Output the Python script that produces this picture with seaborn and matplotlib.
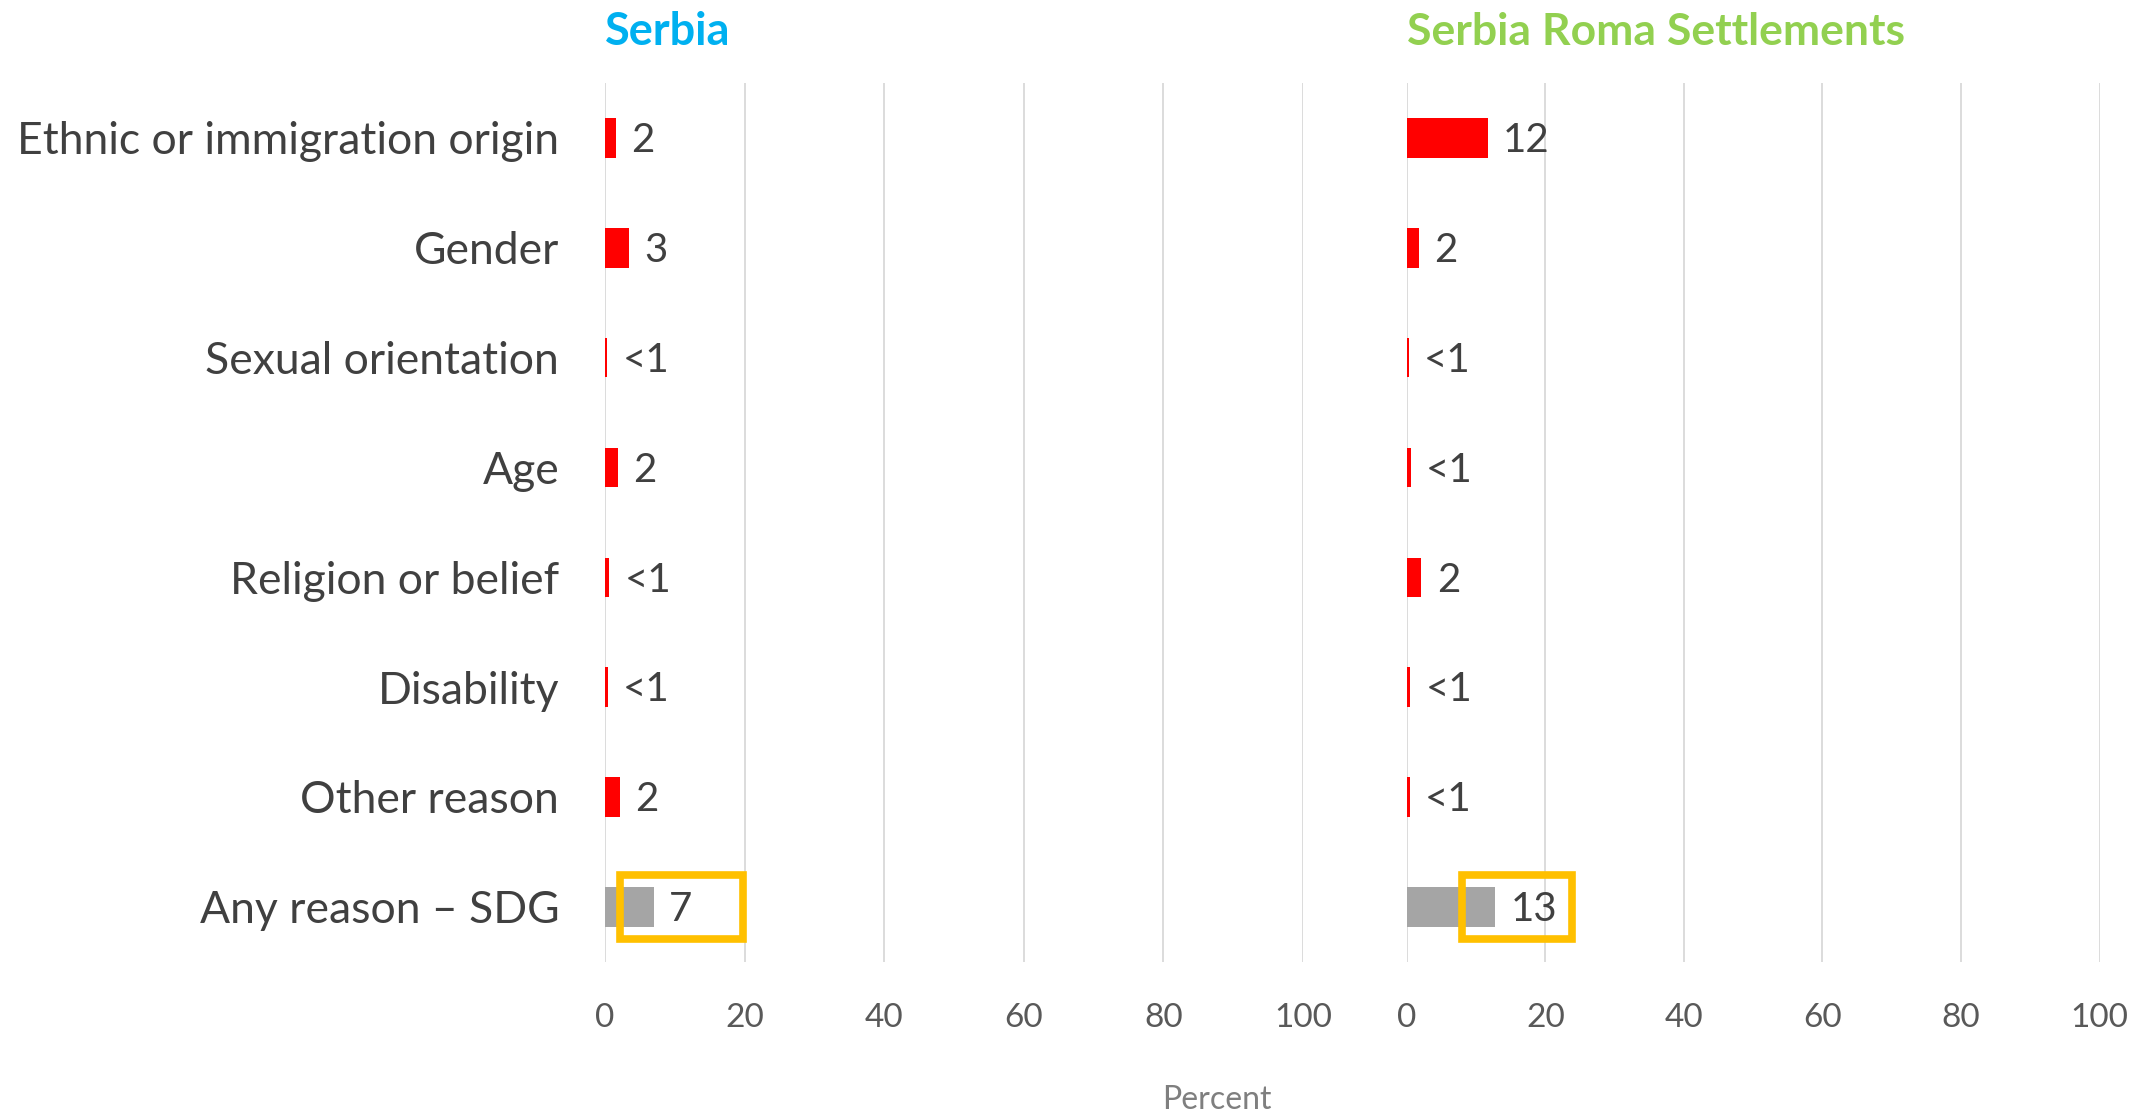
import matplotlib
matplotlib.use("Agg")
import matplotlib.pyplot as plt
import seaborn as sns
import pandas as pd
from matplotlib.patches import Rectangle

categories = ["Ethnic or immigration origin", "Gender", "Sexual orientation", "Age",
              "Religion or belief", "Disability", "Other reason", "Any reason \u2013 SDG"]
serbia_values = [1.6, 3.4, 0.3, 1.8, 0.6, 0.4, 2.1, 7.0]
serbia_labels = ["2", "3", "<1", "2", "<1", "<1", "2", "7"]
roma_values = [11.7, 1.7, 0.3, 0.6, 2.1, 0.5, 0.4, 12.8]
roma_labels = ["12", "2", "<1", "<1", "2", "<1", "<1", "13"]
panel_titles = ["Serbia", "Serbia Roma Settlements"]
x_ticks = [0, 20, 40, 60, 80, 100]

sns.set_theme(style="white")
plt.rcParams["font.family"] = ["Lato", "DejaVu Sans"]

bar_colors = ["#FF0000"] * 7 + ["#A5A5A5"]
title_colors = ["#00B0F0", "#92D050"]

fig = plt.figure(figsize=(21.38, 11.15), dpi=100)
axes = [fig.add_axes([0.283, 0.1375, 0.3265, 0.788]),
        fig.add_axes([0.658, 0.1375, 0.324, 0.788])]

boxes = [(2.1, 19.7), (7.9, 23.8)]

for i, (ax, vals, labs) in enumerate(zip(axes, [serbia_values, roma_values],
                                          [serbia_labels, roma_labels])):
    df = pd.DataFrame({"cat": categories, "val": vals})
    sns.barplot(data=df, x="val", y="cat", hue="cat", palette=bar_colors,
                orient="h", width=0.36, legend=False, ax=ax, saturation=1,
                linewidth=0)
    ax.set_xlim(0, 100)
    ax.set_ylim(7.5, -0.5)
    ax.set_xticks(x_ticks)
    ax.set_xticklabels([str(t) for t in x_ticks], fontsize=24, color="#595959")
    ax.tick_params(axis="x", length=0, pad=30)
    ax.grid(axis="x", color="#D9D9D9", linewidth=1.3)
    ax.set_axisbelow(True)
    for s in ax.spines.values():
        s.set_visible(False)
    ax.set_xlabel("")
    ax.set_ylabel("")
    if i == 0:
        ax.set_yticks(range(len(categories)))
        ax.set_yticklabels(categories, fontsize=32, color="#404040")
        ax.tick_params(axis="y", length=0, pad=33)
    else:
        ax.set_yticks([])
    for j, (v, l) in enumerate(zip(vals, labs)):
        ax.annotate(l, xy=(v, j), xytext=(11, -2), textcoords="offset points",
                    ha="left", va="center", fontsize=29, color="#404040")
    x0, x1 = boxes[i]
    ax.add_patch(Rectangle((x0, 7 - 0.29), x1 - x0, 0.58, fill=False,
                           edgecolor="#FFC000", linewidth=5.5, zorder=5,
                           clip_on=False))
    ax.text(0, 1.058, panel_titles[i], transform=ax.transAxes, ha="left",
            va="center", fontsize=32 if i else 32.5, fontweight="bold",
            color=title_colors[i])

fig.text(0.569, 0.0, "Percent", ha="center", va="bottom", fontsize=23,
         color="#7F7F7F")

fig.savefig("out.png", dpi=100)
